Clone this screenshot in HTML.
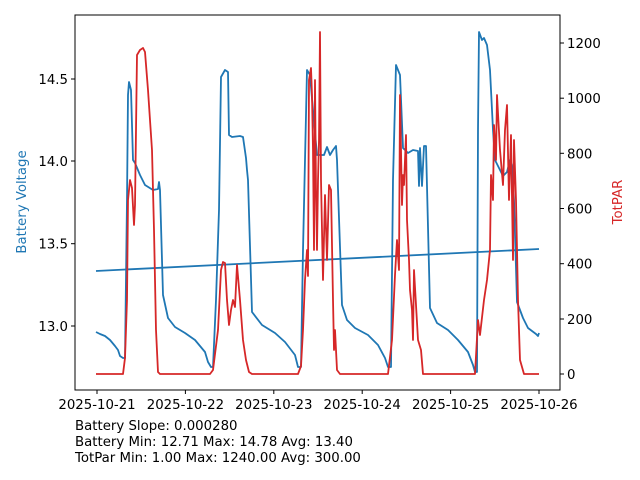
<!DOCTYPE html>
<html><head><meta charset="utf-8"><style>body{margin:0;background:#fff}svg{display:block}text{font-family:"DejaVu Sans",sans-serif;font-size:13.3px;fill:#000}</style></head>
<body><svg width="640" height="480" viewBox="0 0 640 480" xmlns="http://www.w3.org/2000/svg">
<rect width="640" height="480" fill="#fff"/>
<g fill="none" stroke-width="1.8" stroke-linejoin="round">
<polyline stroke="#1f77b4" points="96,332 100,334 105,336 110,340 115,346 118,350 120,356 123,358 125,358 127,200 128,95 129,82 131,90 133,160 135,163 140,175 145,185 153,190 158,189 159,182 160,190 163,295 168,318 175,327 185,333 195,340 205,352 208,362 211,367 213,367 216,300 219,210 221,77 225,70 228,72 229,135 232,137 240,136 243,137 246,158 247,170 248,180 252,312 262,325 275,333 285,342 295,355 298,367 301,367 303,250 307,70 310,75 313,110 317,155 324,155 327,147 330,155 333,150 336,146 337,160 342,305 347,320 355,328 368,335 378,345 385,358 388,367 391,367 393,180 396,65 400,75 403,148 408,153 413,150 418,151 419,186 420,148 422,186 424,146 426,146 430,308 437,323 448,330 458,340 468,352 473,365 475,372 477,372 478,130 479,32 482,40 484,38 487,45 490,70 493,130 495,160 500,170 503,176 507,172 510,160 512,165 514,200 517,302 523,318 528,328 536,334 538,336 539,333"/>
<polyline stroke="#1f77b4" points="96,271 539,249"/>
<polyline stroke="#d62728" points="96,374 123,374 125,358 127,300 128,200 130,180 132,188 134,225 135,205 137,55 140,50 143,48 145,52 148,90 152,150 154,230 156,330 158,372 160,374 210,374 213,370 218,330 221,270 223,262 225,263 227,300 229,325 231,310 233,300 235,307 237,265 240,300 243,340 246,360 249,372 252,374 298,374 301,366 303,330 305,280 307,250 308,276 309,80 311,68 312,95 313,150 314,250 315,80 316,190 317,250 318,180 319,140 320,32 321,180 323,280 325,195 327,260 329,185 331,190 333,300 334,350 335,330 337,370 340,374 388,374 392,340 395,275 397,240 399,270 400,95 402,205 403,175 404,185 406,135 407,220 409,260 410,290 412,310 413,340 414,270 416,305 418,340 421,350 423,374 475,374 478,320 480,335 484,300 487,280 490,250 491,175 493,200 494,125 496,160 497,95 500,150 503,185 505,130 507,105 509,200 511,135 513,260 514,140 516,200 518,300 520,360 524,374 539,374"/>
</g>
<rect x="75" y="15" width="485" height="375" fill="none" stroke="#000" stroke-width="1"/>
<g stroke="#000" stroke-width="1">
<line x1="75" y1="326" x2="71" y2="326"/><line x1="75" y1="243.7" x2="71" y2="243.7"/><line x1="75" y1="161" x2="71" y2="161"/><line x1="75" y1="79" x2="71" y2="79"/>
<line x1="560" y1="374" x2="564" y2="374"/><line x1="560" y1="319" x2="564" y2="319"/><line x1="560" y1="263.7" x2="564" y2="263.7"/><line x1="560" y1="208.5" x2="564" y2="208.5"/><line x1="560" y1="153.3" x2="564" y2="153.3"/><line x1="560" y1="98.2" x2="564" y2="98.2"/><line x1="560" y1="43" x2="564" y2="43"/>
<line x1="97" y1="390" x2="97" y2="394"/><line x1="185.4" y1="390" x2="185.4" y2="394"/><line x1="273.8" y1="390" x2="273.8" y2="394"/><line x1="362.2" y1="390" x2="362.2" y2="394"/><line x1="450.6" y1="390" x2="450.6" y2="394"/><line x1="539" y1="390" x2="539" y2="394"/>
</g>
<g text-anchor="end">
<text x="68" y="331">13.0</text><text x="68" y="248.7">13.5</text><text x="68" y="166">14.0</text><text x="68" y="84">14.5</text>
</g>
<g>
<text x="567" y="379">0</text><text x="567" y="324">200</text><text x="567" y="268.7">400</text><text x="567" y="213.5">600</text><text x="567" y="158.3">800</text><text x="567" y="103.2">1000</text><text x="567" y="48">1200</text>
</g>
<g text-anchor="middle">
<text x="97" y="409">2025-10-21</text><text x="185.4" y="409">2025-10-22</text><text x="273.8" y="409">2025-10-23</text><text x="362.2" y="409">2025-10-24</text><text x="450.6" y="409">2025-10-25</text><text x="539" y="409">2025-10-26</text>
</g>
<text transform="translate(26,202) rotate(-90)" text-anchor="middle" style="fill:#1f77b4">Battery Voltage</text>
<text transform="translate(622,202) rotate(-90)" text-anchor="middle" style="fill:#d62728">TotPAR</text>
<text x="75" y="430">Battery Slope: 0.000280</text>
<text x="75" y="446">Battery Min: 12.71 Max: 14.78 Avg: 13.40</text>
<text x="75" y="462">TotPar Min: 1.00 Max: 1240.00 Avg: 300.00</text>
</svg></body></html>
